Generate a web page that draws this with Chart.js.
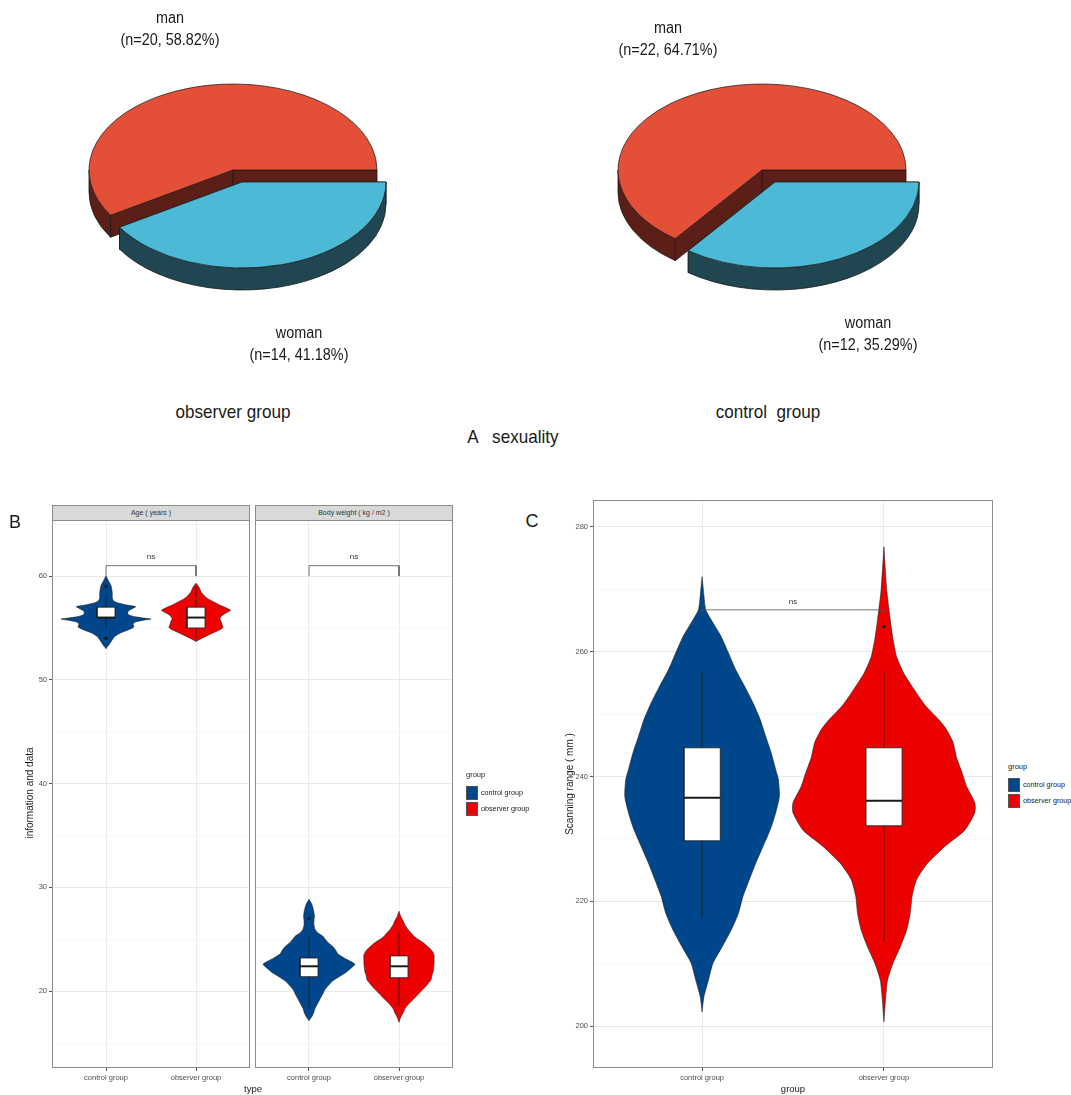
<!DOCTYPE html>
<html>
<head>
<meta charset="utf-8">
<script src="https://cdn.jsdelivr.net/npm/chart.js@4.4.0/dist/chart.umd.min.js"></script>
<style>
  body { margin: 0; background: #fff; width: 1071px; height: 1095px; position: relative; overflow: hidden;
         font-family: "Liberation Sans", Arial, sans-serif; }
  canvas { position: absolute; }
  .txt { position: absolute; white-space: pre; line-height: 1; color: #1a1a1a; }
  .strip { position: absolute; box-sizing: border-box; background: #d9d9d9; border: 1px solid #8c8c8c;
           font-size: 7px; color: #333; text-align: center; line-height: 13px; }
  .key { position: absolute; width: 12px; height: 14px; box-sizing: border-box; border: 0.5px solid #555; }
</style>
</head>
<body>
<canvas id="pieObserver" width="340" height="320" style="left:63px;top:20px"></canvas>
<canvas id="pieControl" width="340" height="320" style="left:592px;top:20px"></canvas>
<canvas id="ageChart" width="252" height="600" style="left:0px;top:495px"></canvas>
<canvas id="bmiChart" width="202" height="600" style="left:253px;top:495px"></canvas>
<canvas id="scanChart" width="460" height="600" style="left:540px;top:495px"></canvas>

<div class="strip" style="left:52px;top:505px;width:198px;height:16px">Age ( years )</div>
<div class="strip" style="left:255px;top:505px;width:198px;height:16px">Body weight ( kg / m2 )</div>

<script>
// ---------------- A: sexuality (counts per group: man, woman)
const sexLabels = ['man', 'woman'];
const observerSex = [20, 14];
const controlSex = [22, 12];

// ---------------- shared
const groupNames = ['control group', 'observer group'];

// ---------------- B: age and body weight
const bTicks = [15, 20, 25, 30, 35, 40, 45, 50, 55, 60, 65];

// violin outlines: value + relative density (100 = full half width)
const ageControlY = [53.0, 53.4, 53.8, 54.2, 54.5, 54.8, 55.1, 55.4, 55.6, 55.75, 55.85, 55.95, 56.1, 56.3, 56.6, 56.9, 57.05, 57.2, 57.4, 57.6, 57.9, 58.3, 58.7, 59.1, 59.5, 60.0];
const ageControlDens = [0, 7, 13, 20, 31, 49, 62, 60, 67, 84, 100, 84, 62, 49, 49, 60, 66, 47, 27, 17, 14, 14, 13, 11, 6, 0];
const ageObserverY = [53.7, 54.0, 54.3, 54.6, 54.9, 55.05, 55.3, 55.6, 55.9, 56.2, 56.5, 56.7, 56.9, 57.2, 57.5, 57.8, 58.1, 58.5, 58.9, 59.3];
const ageObserverDens = [0, 13, 27, 42, 56, 60, 58, 56, 53, 58, 69, 77, 69, 53, 40, 27, 18, 11, 7, 0];

const bmiControlY = [17.15, 17.6, 18.0, 18.3, 18.8, 19.2, 19.6, 20.2, 20.6, 21.0, 21.4, 21.8, 22.2, 22.6, 22.9, 23.2, 23.6, 23.9, 24.3, 24.7, 25.0, 25.3, 25.6, 26.0, 26.4, 26.8, 27.2, 27.6, 28.0, 28.4, 28.85];
const bmiControlDens = [0, 7, 11, 13, 19, 24, 29, 36, 44, 53, 67, 82, 93, 102, 91, 78, 64, 60, 53, 42, 36, 31, 20, 13, 11, 11, 12, 11, 9, 6, 0];
const bmiObserverY = [17.0, 17.5, 17.9, 18.3, 18.7, 19.1, 19.5, 19.9, 20.3, 20.7, 21.1, 21.5, 21.9, 22.3, 22.7, 23.1, 23.5, 23.9, 24.3, 24.7, 25.0, 25.3, 25.6, 26.0, 26.4, 26.8, 27.2, 27.7];
const bmiObserverDens = [0, 4, 9, 13, 20, 29, 38, 47, 56, 64, 71, 73, 76, 77, 78, 78, 78, 73, 64, 53, 42, 33, 27, 19, 13, 9, 4, 0];

// box stats: [lower whisker, q1, median, q3, upper whisker]
const ageControlBox = [55, 56, 56, 57, 58];
const ageObserverBox = [54, 55, 56, 57, 59];
const bmiControlBox = [18.3, 21.4, 22.4, 23.2, 25.3];
const bmiObserverBox = [18.6, 21.3, 22.4, 23.4, 25.6];
const ageControlOut = [54, 59];
const ageObserverOut = [];
const bmiControlOut = [27.0];
const bmiObserverOut = [];
const ageBracket = [61, 60];   // bar level, tip end
const bmiBracket = [61, 60];

// ---------------- C: scanning range
const cTicks = [200, 210, 220, 230, 240, 250, 260, 270, 280];
const scanControlY = [202.3, 204.7, 207.4, 210.1, 212.7, 215.4, 218.1, 220.8, 223.5, 226.1, 228.8, 231.5, 234.2, 236.8, 239.5, 241.1, 243.8, 246.4, 249.1, 251.8, 254.4, 257.1, 259.8, 262.4, 265.1, 266.7, 269.0, 272.0];
const scanControlDens = [0, 2, 7, 12, 22, 32, 40, 45, 52, 59, 67, 75, 81, 85, 84, 81, 76, 70, 64, 56, 47, 37, 29, 21, 10, 4, 2, 0];
const scanObserverY = [200.7, 204.7, 207.4, 210.1, 212.7, 215.4, 218.1, 220.8, 223.5, 226.1, 228.8, 231.4, 234.2, 235.8, 238.4, 240.6, 243.0, 245.5, 247.5, 249.0, 251.3, 254.0, 256.5, 259.2, 262.0, 265.1, 270.0, 276.8];
const scanObserverDens = [0, 2, 4, 10, 18, 25, 29, 31, 36, 48, 67, 89, 100, 100, 91, 86, 80, 76, 69, 61, 46, 33, 22, 14, 10, 7, 3, 0];
const scanControlBox = [217.4, 229.7, 236.6, 244.6, 256.8];
const scanObserverBox = [213.6, 232.1, 236.1, 244.6, 256.8];
const scanControlOut = [];
const scanObserverOut = [264];
const scanBracket = [266.7, 266.3];

// ---------------- colours
const BLUE = '#00468B', RED = '#ED0000';
const MAN_TOP = '#E34F37', MAN_SIDE = '#5C1F18';
const WOMAN_TOP = '#4CB9D6', WOMAN_SIDE = '#1F4651';
const FONT = '"Liberation Sans", Arial, sans-serif';
Chart.defaults.font.family = FONT;

// ---------------- html text helper
function addText(text, x, y, size, extra) {
  const d = document.createElement('div');
  d.className = 'txt';
  d.textContent = text;
  d.style.left = x + 'px';
  d.style.top = y + 'px';
  d.style.fontSize = size + 'px';
  d.style.transform = 'translate(-50%, -50%)' + (extra || '');
  document.body.appendChild(d);
  return d;
}

// ================= 3D pies =================
const pie3d = {
  id: 'pie3d',
  beforeDatasetsDraw(chart, args, o) {
    const ctx = chart.ctx;
    const arcs = chart.getDatasetMeta(0).data;
    const s = o.tilt, D = o.depth;
    const cy0 = arcs[0].y;
    // side walls, back slice first
    arcs.forEach((arc, i) => {
      const cx = arc.x + o.explode[i][0], cy = arc.y + o.explode[i][1];
      const R = arc.outerRadius, a0 = arc.startAngle, a1 = arc.endAngle;
      ctx.save();
      ctx.fillStyle = o.sides[i];
      ctx.strokeStyle = '#1a1a1a';
      ctx.lineWidth = 0.8;
      [a0, a1].forEach(a => {
        const px = cx + R * Math.cos(a), py = cy + s * R * Math.sin(a);
        ctx.beginPath();
        ctx.moveTo(cx, cy); ctx.lineTo(px, py); ctx.lineTo(px, py + D); ctx.lineTo(cx, cy + D);
        ctx.closePath(); ctx.fill(); ctx.stroke();
      });
      for (let k = -1; k <= 2; k++) {
        const b0 = Math.max(a0, 2 * Math.PI * k), b1 = Math.min(a1, 2 * Math.PI * k + Math.PI);
        if (b1 <= b0) continue;
        ctx.beginPath();
        ctx.ellipse(cx, cy, R, s * R, 0, b0, b1);
        ctx.lineTo(cx + R * Math.cos(b1), cy + s * R * Math.sin(b1) + D);
        ctx.ellipse(cx, cy + D, R, s * R, 0, b1, b0, true);
        ctx.closePath(); ctx.fill(); ctx.stroke();
      }
      ctx.restore();
    });
    // squash the top faces into ellipses
    ctx.save();
    ctx.translate(0, cy0); ctx.scale(1, s); ctx.translate(0, -cy0);
    arcs.forEach((arc, i) => {
      arc._home = [arc.x, arc.y];
      arc.x += o.explode[i][0];
      arc.y += o.explode[i][1] / s;
    });
  },
  afterDatasetsDraw(chart) {
    chart.ctx.restore();
    chart.getDatasetMeta(0).data.forEach(arc => { arc.x = arc._home[0]; arc.y = arc._home[1]; });
  }
};

function makePie(id, counts, explode) {
  const total = counts[0] + counts[1];
  return new Chart(document.getElementById(id), {
    type: 'pie',
    data: {
      labels: sexLabels,
      datasets: [{ data: counts, backgroundColor: [MAN_TOP, WOMAN_TOP], borderColor: '#1a1a1a', borderWidth: 0.9, radius: 144 }]
    },
    options: {
      responsive: false, animation: false,
      // man runs counter-clockwise from 3 o'clock, so start it where woman ends
      rotation: 90 + 360 * counts[1] / total,
      layout: { padding: { left: 26, right: 26, top: 6, bottom: 26 } },
      plugins: {
        legend: { display: false }, tooltip: { enabled: false },
        pie3d: { tilt: 86 / 144, depth: 22, explode: explode, sides: [MAN_SIDE, WOMAN_SIDE] }
      }
    },
    plugins: [pie3d]
  });
}
makePie('pieObserver', observerSex, [[0, 0], [9, 12]]);
makePie('pieControl', controlSex, [[0, 0], [13, 12]]);

function pieLabels(counts, manXY, womanXY) {
  const total = counts[0] + counts[1];
  [manXY, womanXY].forEach((p, i) => {
    const pct = (100 * counts[i] / total).toFixed(2);
    addText(sexLabels[i], p[0], p[1], 16, ' scaleX(0.9)');
    addText('(n=' + counts[i] + ', ' + pct + '%)', p[0], p[1] + 22, 16, ' scaleX(0.9)');
  });
}
pieLabels(observerSex, [170, 18], [299, 333]);
pieLabels(controlSex, [668, 28], [868, 323]);
addText('observer group', 233, 411, 19, ' scaleX(0.9)');
addText('control  group', 768, 411, 19, ' scaleX(0.9)');
addText('A   sexuality', 513, 436, 19, ' scaleX(0.9)');

// ================= violin panels =================
const HALF = 0.5;   // half width of a full-density violin, in x units
const BOX_HALF = 0.1;

function groupSets(center, color, ys, dens, box, outliers) {
  const [lo, q1, med, q3, hi] = box;
  const right = ys.map((y, i) => ({ x: center + dens[i] / 100 * HALF, y: y }));
  const left = ys.map((y, i) => ({ x: center - dens[i] / 100 * HALF, y: y })).reverse();
  const ink = '#1a1a1a';
  return [
    { data: right.concat(left), showLine: true, fill: 'shape', backgroundColor: color, borderColor: '#202020',
      borderWidth: 0.6, pointRadius: 0, tension: 0.2, order: 5 },
    { data: [{ x: center, y: lo }, { x: center, y: hi }], showLine: true, borderColor: ink, borderWidth: 0.8, pointRadius: 0, order: 4 },
    { data: [{ x: center - BOX_HALF, y: q1 }, { x: center + BOX_HALF, y: q1 }, { x: center + BOX_HALF, y: q3 },
             { x: center - BOX_HALF, y: q3 }, { x: center - BOX_HALF, y: q1 }],
      showLine: true, fill: 'shape', backgroundColor: '#ffffff', borderColor: ink, borderWidth: 0.8, pointRadius: 0, order: 3 },
    { data: [{ x: center - BOX_HALF, y: med }, { x: center + BOX_HALF, y: med }], showLine: true, borderColor: ink,
      borderWidth: 2, pointRadius: 0, order: 2 },
    { data: outliers.map(y => ({ x: center, y: y })), showLine: false, pointRadius: 1.7,
      pointBackgroundColor: ink, pointBorderWidth: 0, order: 1 }
  ];
}

function bracketSet(b) {
  return { data: [{ x: 1, y: b[1] }, { x: 1, y: b[0] }, { x: 2, y: b[0] }, { x: 2, y: b[1] }], showLine: true,
           borderColor: '#555', borderWidth: 0.8, pointRadius: 0, order: 0 };
}

const panelFrame = {
  id: 'panelFrame',
  afterDraw(chart) {
    const { left, top, right, bottom } = chart.chartArea;
    const ctx = chart.ctx;
    ctx.save();
    ctx.strokeStyle = '#8c8c8c';
    ctx.lineWidth = 1;
    ctx.strokeRect(left + 0.5, top + 0.5, right - left - 1, bottom - top - 1);
    ctx.restore();
  }
};

const sigText = {
  id: 'sigText',
  afterDatasetsDraw(chart, args, o) {
    const ctx = chart.ctx;
    ctx.save();
    ctx.font = '8px ' + FONT;
    ctx.fillStyle = '#333';
    ctx.textAlign = 'center';
    ctx.textBaseline = 'middle';
    ctx.fillText(o.text, chart.scales.x.getPixelForValue(1.5), chart.scales.y.getPixelForValue(o.y) - 8.5);
    ctx.restore();
  }
};

function panelOptions(o) {
  return {
    responsive: false, animation: false,
    layout: { padding: o.padding, autoPadding: false },
    plugins: { legend: { display: false }, tooltip: { enabled: false }, sigText: { text: 'ns', y: o.sigY } },
    scales: {
      x: {
        type: 'linear', min: 0.4, max: 2.6,
        afterBuildTicks: a => { a.ticks = [{ value: 1 }, { value: 2 }]; },
        afterFit: s => { s.height = 27; s.paddingLeft = 0; s.paddingRight = 0; },
        ticks: { callback: v => groupNames[v - 1], autoSkip: false, maxRotation: 0, padding: 2,
                 font: { size: 7.5 }, color: '#4d4d4d' },
        grid: { color: '#ebebeb', lineWidth: 1, tickColor: '#555', tickLength: 3 },
        border: { display: false }
      },
      y: {
        min: o.min, max: o.max,
        afterBuildTicks: a => { a.ticks = o.ticks.map(v => ({ value: v })); },
        afterFit: s => { s.width = o.axisWidth; s.paddingTop = 0; s.paddingBottom = 0; },
        ticks: { display: o.showY, callback: v => (v % o.major === 0 ? v : ''), autoSkip: false, padding: 2,
                 font: { size: 7.5 }, color: '#4d4d4d' },
        grid: {
          color: c => (c.tick.value % o.major === 0 ? '#e8e8e8' : '#f3f3f3'),
          lineWidth: c => (c.tick.value % o.major === 0 ? 1 : 0.7),
          tickColor: c => (c.tick.value % o.major === 0 ? '#555' : 'rgba(0,0,0,0)'),
          tickLength: 3, drawTicks: o.showY
        },
        border: { display: false }
      }
    }
  };
}

new Chart(document.getElementById('ageChart'), {
  type: 'scatter',
  data: { datasets: [].concat(
    groupSets(1, BLUE, ageControlY, ageControlDens, ageControlBox, ageControlOut),
    groupSets(2, RED, ageObserverY, ageObserverDens, ageObserverBox, ageObserverOut),
    [bracketSet(ageBracket)]) },
  options: panelOptions({ padding: { top: 25, right: 2, left: 0, bottom: 0 }, min: 12.6, max: 65.4, ticks: bTicks,
                          major: 10, axisWidth: 52, showY: true, sigY: ageBracket[0] }),
  plugins: [panelFrame, sigText]
});

new Chart(document.getElementById('bmiChart'), {
  type: 'scatter',
  data: { datasets: [].concat(
    groupSets(1, BLUE, bmiControlY, bmiControlDens, bmiControlBox, bmiControlOut),
    groupSets(2, RED, bmiObserverY, bmiObserverDens, bmiObserverBox, bmiObserverOut),
    [bracketSet(bmiBracket)]) },
  options: panelOptions({ padding: { top: 25, right: 2, left: 0, bottom: 0 }, min: 12.6, max: 65.4, ticks: bTicks,
                          major: 10, axisWidth: 2, showY: false, sigY: bmiBracket[0] }),
  plugins: [panelFrame, sigText]
});

new Chart(document.getElementById('scanChart'), {
  type: 'scatter',
  data: { datasets: [].concat(
    groupSets(1, BLUE, scanControlY, scanControlDens, scanControlBox, scanControlOut),
    groupSets(2, RED, scanObserverY, scanObserverDens, scanObserverBox, scanObserverOut),
    [bracketSet(scanBracket)]) },
  options: panelOptions({ padding: { top: 5, right: 7, left: 0, bottom: 0 }, min: 193.3, max: 284.3, ticks: cTicks,
                          major: 20, axisWidth: 53, showY: true, sigY: scanBracket[0] }),
  plugins: [panelFrame, sigText]
});

// ---------------- panel letters, axis titles, legends
addText('B', 15, 522, 18);
addText('C', 532, 521, 18);
addText('type', 253, 1089, 9.5);
addText('information and data', 30, 793, 10, ' rotate(-90deg)');
addText('group', 793, 1089, 9.5);
addText('Scanning range ( mm )', 570, 784, 10, ' rotate(-90deg)');

function legend(x, y) {
  const t = addText('group', x, y, 7.5);
  t.style.transform = 'translate(0, -50%)';
  [BLUE, RED].forEach((c, i) => {
    const k = document.createElement('div');
    k.className = 'key';
    k.style.left = x + 'px';
    k.style.top = (y + 11 + i * 16) + 'px';
    k.style.background = c;
    document.body.appendChild(k);
    const l = addText(groupNames[i], x + 15, y + 18 + i * 16, 7.2);
    l.style.transform = 'translate(0, -50%)';
  });
}
legend(466, 775);
legend(1008, 767);
</script>
</body>
</html>
